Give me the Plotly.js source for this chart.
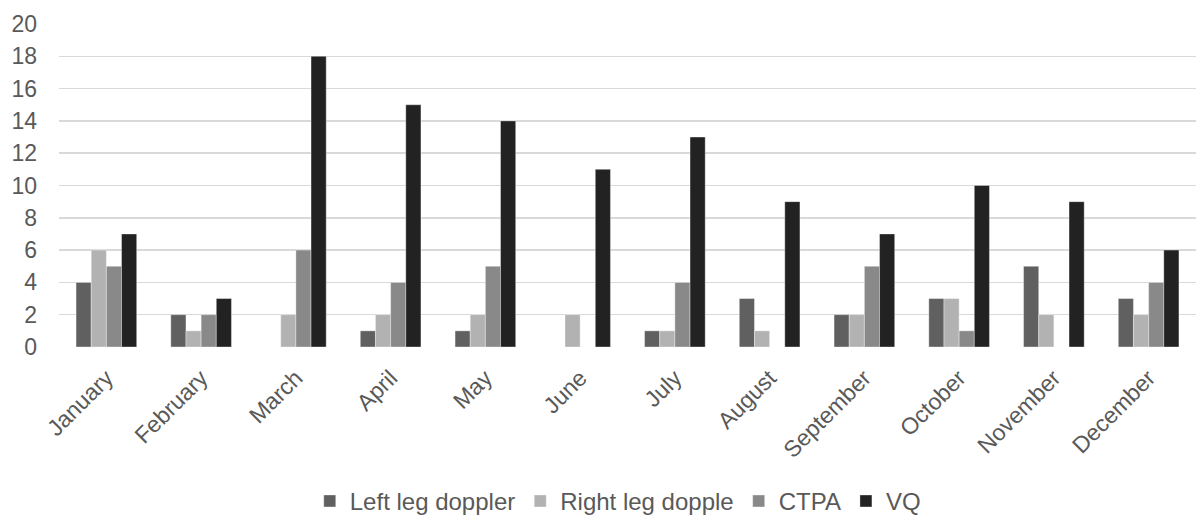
<!DOCTYPE html>
<html>
<head>
<meta charset="utf-8">
<script src="https://cdn.plot.ly/plotly-3.0.1.min.js"></script>
<style>
  html, body { margin: 0; padding: 0; background: #fff; }
  #chart { width: 1196px; height: 519px; }
</style>
</head>
<body>
<div id="chart"></div>
<script>
const months = ["January", "February", "March", "April", "May", "June",
                "July", "August", "September", "October", "November", "December"];
const leftLegDoppler  = [4, 2, 0, 1, 1, 0, 1, 3, 2, 3, 5, 3];
const rightLegDoppler = [6, 1, 2, 2, 2, 2, 1, 1, 2, 3, 2, 2];
const ctpa            = [5, 2, 6, 4, 5, 0, 4, 0, 5, 1, 0, 4];
const vq              = [7, 3, 18, 15, 14, 11, 13, 9, 7, 10, 9, 6];
const yTicks = [0, 2, 4, 6, 8, 10, 12, 14, 16, 18, 20];

const FONT = "Liberation Sans, Arial, sans-serif";
const TEXT = "#595959";

function series(name, values, color) {
  return {
    type: "bar", name: name, x: months, y: values,
    marker: { color: color, line: { color: "rgba(255,255,255,0.6)", width: 0.6 } },
    hoverinfo: "x+y+name"
  };
}

const data = [
  series("Left leg doppler", leftLegDoppler, "#606060"),
  series("Right leg dopple", rightLegDoppler, "#b2b2b2"),
  series("CTPA", ctpa, "#898989"),
  series("VQ", vq, "#222222")
];

const layout = {
  width: 1196, height: 519,
  margin: { l: 59, r: 0, t: 24, b: 172 },
  paper_bgcolor: "#fff", plot_bgcolor: "#fff",
  font: { family: FONT, size: 23, color: TEXT },
  barmode: "group",
  bargap: 0.36, bargroupgap: 0,
  showlegend: true,
  legend: {
    orientation: "h",
    xref: "container", x: 0.259, xanchor: "left",
    yref: "container", y: 0.034, yanchor: "middle",
    font: { family: FONT, size: 24, color: TEXT },
    itemwidth: 30, traceorder: "normal"
  },
  xaxis: {
    type: "category", tickangle: -45, showgrid: false, zeroline: false,
    showline: false, ticks: "", automargin: false,
    ticklabelstandoff: 12,
    tickfont: { family: FONT, size: 23, color: TEXT }
  },
  yaxis: {
    range: [0, 20], tickvals: yTicks, ticktext: yTicks.map(String),
    showgrid: true, gridcolor: "#d9d9d9", gridwidth: 1.5,
    zeroline: false, showline: false, ticks: "", automargin: false,
    ticklabelstandoff: 21,
    tickfont: { family: FONT, size: 23, color: TEXT }
  }
};

Plotly.newPlot("chart", data, layout, { displayModeBar: false, staticPlot: true });
</script>
</body>
</html>
